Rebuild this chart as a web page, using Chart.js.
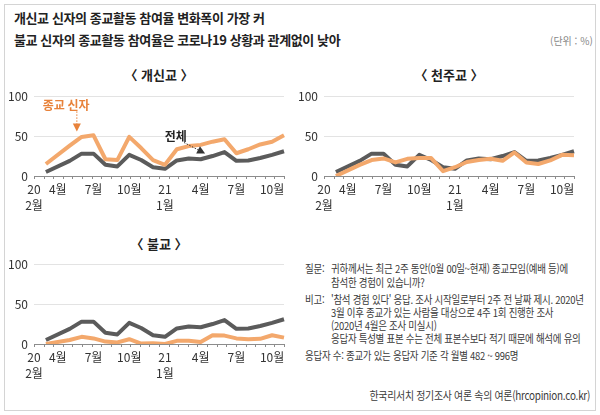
<!DOCTYPE html>
<html lang="ko">
<head>
<meta charset="utf-8">
<script src="https://cdn.jsdelivr.net/npm/chart.js@4.4.0/dist/chart.umd.min.js"></script>
<style>
  html, body { margin: 0; padding: 0; background: #fff; }
  body {
    width: 600px; height: 415px; position: relative; overflow: hidden;
    font-family: "Noto Sans CJK KR", "Noto Sans", sans-serif; color: #222;
  }
  .frame { position: absolute; left: 4px; top: 4px; width: 590px; height: 405px; border: 1px solid #d4d4d4; }
  .title { position: absolute; left: 14px; font-size: 13px; font-weight: 700; line-height: 20px; white-space: nowrap; letter-spacing: -0.4px; }
  .unit { position: absolute; left: 550px; top: 34px; font-size: 10px; color: #888; line-height: 14px; }
  .panel-title { position: absolute; width: 160px; text-align: center; font-size: 13px; font-weight: 700; line-height: 18px; }
  canvas { position: absolute; }
  .note {
    position: absolute; font-size: 11px; color: #3a3a3a; line-height: 14px; white-space: nowrap;
    letter-spacing: -0.3px; transform: scaleX(0.86); transform-origin: left center;
  }
  .source { transform-origin: right center; text-align: right; }
</style>
</head>
<body>
<div class="frame"></div>
<div class="title" style="top:8px">개신교 신자의 종교활동 참여율 변화폭이 가장 커</div>
<div class="title" style="top:30px">불교 신자의 종교활동 참여율은 코로나19 상황과 관계없이 낮아</div>
<div class="unit">(단위 : %)</div>

<div class="panel-title" style="left:79px; top:66px">〈 개신교 〉</div>
<div class="panel-title" style="left:369px; top:66px">〈 천주교 〉</div>
<div class="panel-title" style="left:79px; top:235px">〈 불교 〉</div>

<canvas id="protestant" width="292" height="140" style="left:0px; top:83px"></canvas>
<canvas id="catholic" width="292" height="140" style="left:290px; top:83px"></canvas>
<canvas id="buddhist" width="292" height="140" style="left:0px; top:251px"></canvas>

<div class="note" style="left:305px; top:261px">질문:</div>
<div class="note" style="left:331px; top:261px">귀하께서는 최근 2주 동안(0월 00일~현재) 종교모임(예배 등)에</div>
<div class="note" style="left:331px; top:275px">참석한 경험이 있습니까?</div>
<div class="note" style="left:305px; top:292px">비고:</div>
<div class="note" style="left:331px; top:292px">'참석 경험 있다' 응답. 조사 시작일로부터 2주 전 날짜 제시. 2020년</div>
<div class="note" style="left:331px; top:305px">3월 이후 종교가 있는 사람을 대상으로 4주 1회 진행한 조사</div>
<div class="note" style="left:331px; top:318px">(2020년 4월은 조사 미실시)</div>
<div class="note" style="left:331px; top:331px">응답자 특성별 표본 수는 전체 표본수보다 적기 때문에 해석에 유의</div>
<div class="note" style="left:305px; top:348px">응답자 수: 종교가 있는 응답자 기준 각 월별 482 ~ 996명</div>
<div class="note source" style="left:290px; top:388px; font-size:11.5px; width:300px">한국리서치 정기조사 여론 속의 여론(hrcopinion.co.kr)</div>

<script>
// monthly surveys, 2020-02 .. 2021-11 (no survey in 2020-04)
const months = ["2020-02", "2020-03", "2020-04", "2020-05", "2020-06", "2020-07", "2020-08",
  "2020-09", "2020-10", "2020-11", "2020-12", "2021-01", "2021-02", "2021-03", "2021-04",
  "2021-05", "2021-06", "2021-07", "2021-08", "2021-09", "2021-10", "2021-11"];
const tickLabels = [["20", "2월"], "", "4월", "", "", "7월", "", "", "10월", "", "",
  ["21", "1월"], "", "", "4월", "", "", "7월", "", "", "10월", ""];
const yTicks = [0, 50, 100];

const overall = [null, 5, null, 19, 28, 28, 14, 12, 26.5, 20, 11, 9, 19.5, 22, 21, 25, 30, 19, 19.5, 22.5, 26.5, 31];
const protestant = [null, 15, null, 38, 49, 51, 21, 20, 49, 35, 20, 14, 33.5, 37.5, 39, 43, 46, 28.5, 33.5, 39.5, 43, 51];
const catholic = [null, 0, null, 14, 20, 22, 17, 21.5, 22.5, 22.5, 6, 11, 17.5, 20, 21.5, 19, 29.5, 17, 15, 19.5, 26.5, 26];
const buddhist = [null, 0, null, 5, 9, 7, 3, 2, 6, 0.5, 1, 0, 4, 4, 2.5, 11, 10.5, 7, 6, 6.5, 11, 8];

const ORANGE = "#f3a86c";
const GRAY = "#5b5b5b";
const FONT = "'Noto Sans CJK KR', 'Noto Sans', sans-serif";

// small tick marks along the bottom axis, evenly spaced like the original
const axisTicks = {
  id: "axisTicks",
  afterDraw(chart) {
    const { ctx, chartArea } = chart;
    const n = 26;
    ctx.save();
    ctx.strokeStyle = "#8c8c8c";
    ctx.lineWidth = 1;
    for (let i = 0; i <= n; i++) {
      const x = Math.round(chartArea.left + (chartArea.right - chartArea.left) * i / n) + 0.5;
      ctx.beginPath();
      ctx.moveTo(x, chartArea.bottom);
      ctx.lineTo(x, chartArea.bottom + 3);
      ctx.stroke();
    }
    ctx.restore();
  }
};

// callouts for the first panel, placed in data units
const callouts = {
  id: "callouts",
  afterDatasetsDraw(chart, args, opts) {
    if (!opts.items) return;
    const { ctx, scales } = chart;
    const px = (i) => scales.x.getPixelForValue(i);
    const py = (v) => scales.y.getPixelForValue(v);
    ctx.save();
    opts.items.forEach((it) => {
      ctx.font = "bold 12px " + FONT;
      ctx.fillStyle = it.color;
      ctx.textAlign = "center";
      ctx.textBaseline = "middle";
      ctx.fillText(it.text, px(it.tx), py(it.ty));
      const x1 = px(it.from[0]), y1 = py(it.from[1]);
      const x2 = px(it.to[0]), y2 = py(it.to[1]);
      ctx.strokeStyle = it.arrow;
      ctx.lineWidth = 1;
      ctx.setLineDash([1.5, 1.5]);
      ctx.beginPath();
      ctx.moveTo(x1, y1);
      ctx.lineTo(x2, y2);
      ctx.stroke();
      ctx.setLineDash([]);
      const ang = Math.atan2(y2 - y1, x2 - x1);
      ctx.fillStyle = it.arrow;
      ctx.beginPath();
      ctx.moveTo(x2 + Math.cos(ang) * 5, y2 + Math.sin(ang) * 5);
      ctx.lineTo(x2 + Math.cos(ang + 2.2) * 5, y2 + Math.sin(ang + 2.2) * 5);
      ctx.lineTo(x2 + Math.cos(ang - 2.2) * 5, y2 + Math.sin(ang - 2.2) * 5);
      ctx.closePath();
      ctx.fill();
    });
    ctx.restore();
  }
};

function makePanel(id, believers, items) {
  return new Chart(document.getElementById(id), {
    type: "line",
    data: {
      labels: months,
      datasets: [
        { label: "종교 신자", data: believers, borderColor: ORANGE, borderWidth: 4,
          pointRadius: 0, spanGaps: true, tension: 0, borderJoinStyle: "round" },
        { label: "전체", data: overall, borderColor: GRAY, borderWidth: 4,
          pointRadius: 0, spanGaps: true, tension: 0, borderJoinStyle: "round" }
      ]
    },
    options: {
      responsive: false,
      animation: false,
      layout: { padding: { top: 8, right: 8, left: 0, bottom: 0 } },
      plugins: {
        legend: { display: false },
        tooltip: { enabled: false },
        callouts: { items: items }
      },
      scales: {
        x: {
          grid: { display: false, drawTicks: false },
          border: { display: true, color: "#8c8c8c", width: 1 },
          ticks: {
            autoSkip: false, maxRotation: 0, minRotation: 0, padding: 6,
            color: "#333", font: { size: 12, family: FONT, lineHeight: 1.3 },
            callback: (v, i) => tickLabels[i]
          },
          afterFit: (s) => { s.height = 47; }
        },
        y: {
          min: 0, max: 100,
          afterBuildTicks: (s) => { s.ticks = yTicks.map((v) => ({ value: v })); },
          ticks: { padding: 6, color: "#333", font: { size: 12, family: FONT } },
          grid: {
            drawTicks: false,
            color: (c) => (c.tick && c.tick.value === 0 ? "#8c8c8c" : "#e3e3e3")
          },
          border: { display: false },
          afterFit: (s) => { s.width = 34; }
        }
      }
    },
    plugins: [axisTicks, callouts]
  });
}

makePanel("protestant", protestant, [
  { text: "종교 신자", color: "#e8823a", arrow: "#e8823a", tx: 2.7, ty: 89, from: [3.6, 81], to: [3.6, 62] },
  { text: "전체", color: "#222", arrow: "#333", tx: 11.9, ty: 50, from: [12.6, 42], to: [14, 31] }
]);
makePanel("catholic", catholic, null);
makePanel("buddhist", buddhist, null);
</script>
</body>
</html>
